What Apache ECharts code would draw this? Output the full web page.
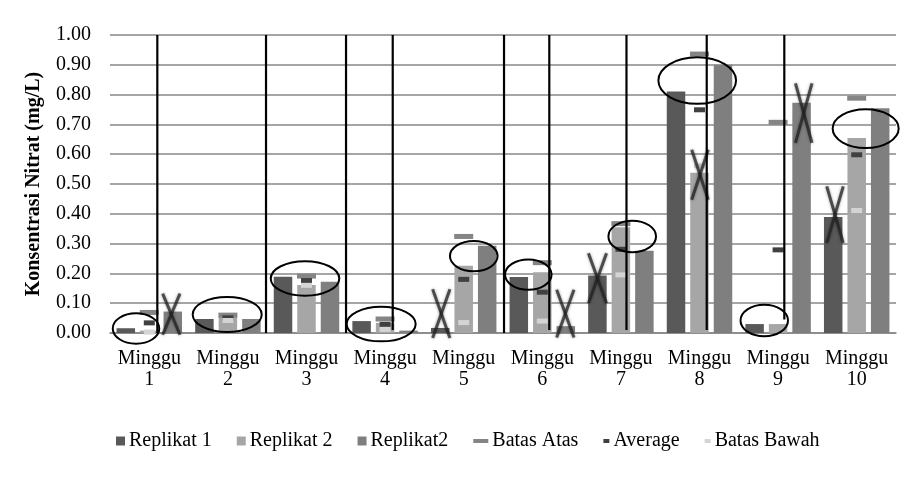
<!DOCTYPE html>
<html><head><meta charset="utf-8">
<script src="https://cdn.jsdelivr.net/npm/echarts@6/dist/echarts.min.js"></script>
<style>html,body{margin:0;padding:0;background:#fff}#c{width:916px;height:483px}</style>
</head><body><div id="c"></div>
<script>
// ---- data ----
const categories = ['Minggu\n1','Minggu\n2','Minggu\n3','Minggu\n4','Minggu\n5','Minggu\n6','Minggu\n7','Minggu\n8','Minggu\n9','Minggu\n10'];
const replikat1  = [0.016, 0.047, 0.189, 0.040, 0.017, 0.188, 0.193, 0.810, 0.030, 0.389];
const replikat2  = [0.008, 0.057, 0.161, 0.034, 0.226, 0.204, 0.355, 0.538, 0.030, 0.654];
const replikat2b = [0.072, 0.047, 0.172, 0.008, 0.293, 0.023, 0.276, 0.900, 0.773, 0.754];
const batasAtas  = [0.069, 0.060, 0.191, 0.047, 0.324, 0.236, 0.367, 0.936, 0.707, 0.788];
const average    = [0.034, 0.051, 0.176, 0.029, 0.180, 0.137, 0.281, 0.749, 0.279, 0.598];
const batasBawah = [0.003, 0.042, 0.160, 0.012, 0.035, 0.040, 0.195, 0.561, null, 0.411];
const yTicks = [0, 0.1, 0.2, 0.3, 0.4, 0.5, 0.6, 0.7, 0.8, 0.9, 1.0];
// hand-drawn annotations, in data units (category position, value)
const ellipses = [[0.331,0.015,0.296,0.051],[1.491,0.062,0.439,0.059],[2.481,0.183,0.436,0.058],[3.450,0.030,0.439,0.058],[4.628,0.258,0.303,0.051],[5.322,0.196,0.296,0.051],[6.644,0.324,0.303,0.053],[7.471,0.847,0.494,0.078],[8.324,0.042,0.302,0.053],[9.614,0.686,0.420,0.065]];
const vLines = [[0.602,0.0],[1.985,0.0],[3.003,0.0],[3.597,0.01],[5.013,0.0],[5.589,0.01],[6.571,0.01],[7.592,0.01],[8.579,0.045]];
const crosses = [[0.780,0.063,0.11,0.069],[4.215,0.065,0.11,0.082],[5.793,0.065,0.11,0.080],[6.202,0.184,0.115,0.084],[7.506,0.531,0.105,0.084],[8.826,0.738,0.105,0.100],[9.224,0.397,0.105,0.095]];

const FONT = '"Liberation Serif","Times New Roman",serif';
const chart = echarts.init(document.getElementById('c'), null, {renderer:'canvas'});

const ctx = document.createElement('canvas').getContext('2d');
ctx.font = '20px "Liberation Serif"';
const legendSpec = [
  {name:'Replikat 1', w:9, h:9},
  {name:'Replikat 2', w:9, h:9},
  {name:'Replikat2', w:9, h:9},
  {name:'Batas Atas', w:15, h:4},
  {name:'Average', w:6, h:4},
  {name:'Batas Bawah', w:6, h:4}
];
let lx = 116; const lgap = 24;
const legends = legendSpec.map(s => {
  const l = {data:[{name:s.name, icon:'rect'}], left:lx, top:431, padding:0, itemWidth:s.w, itemHeight:s.h, itemGap:0,
    selectedMode:false, textStyle:{fontFamily:FONT, fontSize:20, color:'#000', padding:[0,0,0,-1]}};
  lx += s.w + 5 + ctx.measureText(s.name).width + lgap;
  return l;
});

function markerSeries(name, data, color, size) {
  return {name, type:'line', data, symbol:'rect', symbolSize:size, showSymbol:true, showAllSymbol:true,
    itemStyle:{color}, lineStyle:{opacity:0, width:0}, z:5, silent:true};
}

chart.setOption({
  animation:false,
  backgroundColor:'#fff',
  legend: legends,
  grid:{left:110, right:20, top:35, bottom:150, containLabel:false},
  xAxis:[{type:'category', data:categories, axisTick:{show:false},
      axisLine:{lineStyle:{color:'#878787', width:1.5}},
      axisLabel:{fontFamily:FONT, fontSize:20, color:'#000', margin:15, lineHeight:21, interval:0}},
    {type:'value', min:0, max:10, show:false}],
  yAxis:{type:'value', min:yTicks[0], max:yTicks[yTicks.length-1], interval:0.1,
    name:'Konsentrasi Nitrat (mg/L)', nameLocation:'middle', nameRotate:90, nameGap:66,
    nameTextStyle:{fontFamily:FONT, fontSize:20, fontWeight:'bold', color:'#000'},
    axisLine:{show:false}, axisTick:{show:false},
    axisLabel:{fontFamily:FONT, fontSize:20, color:'#000', margin:19, formatter:v=>v.toFixed(2)},
    splitLine:{lineStyle:{color:'#878787', width:1.5}}},
  series:[
    {name:'Replikat 1', type:'bar', data:replikat1, itemStyle:{color:'#595959'}, barGap:'27%', barCategoryGap:'16.7%'},
    {name:'Replikat 2', type:'bar', data:replikat2, itemStyle:{color:'#a6a6a6'}},
    {name:'Replikat2', type:'bar', data:replikat2b, itemStyle:{color:'#7f7f7f'}},
    markerSeries('Batas Atas', batasAtas, '#858585', [19,5]),
    markerSeries('Average', average, '#404040', [11,5]),
    markerSeries('Batas Bawah', batasBawah, '#d4d4d4', [11,5]),
    {name:'annoCross', type:'custom', xAxisIndex:1, yAxisIndex:0, data:crosses, z:8, clip:false, silent:true,
      renderItem:(p, api) => {
        const c = api.coord([api.value(0), api.value(1)]);
        const s = api.size([api.value(2), api.value(3)]);
        const st = {stroke:'rgba(35,35,35,0.75)', lineWidth:3, shadowBlur:3, shadowColor:'rgba(0,0,0,0.5)'};
        return {type:'group', children:[
          {type:'line', shape:{x1:c[0]-s[0], y1:c[1]-s[1], x2:c[0]+s[0], y2:c[1]+s[1]}, style:st},
          {type:'line', shape:{x1:c[0]+s[0], y1:c[1]-s[1], x2:c[0]-s[0], y2:c[1]+s[1]}, style:st}]};
      }},
    {name:'annoLine', type:'custom', xAxisIndex:1, yAxisIndex:0, data:vLines, z:9, clip:false, silent:true,
      renderItem:(p, api) => {
        const t = api.coord([api.value(0), 1.0]);
        const b = api.coord([api.value(0), api.value(1)]);
        return {type:'line', shape:{x1:t[0], y1:t[1], x2:b[0], y2:b[1]}, style:{stroke:'#000', lineWidth:2.2}};
      }},
    {name:'annoEllipse', type:'custom', xAxisIndex:1, yAxisIndex:0, data:ellipses, z:10, clip:false, silent:true,
      renderItem:(p, api) => {
        const c = api.coord([api.value(0), api.value(1)]);
        const s = api.size([api.value(2), api.value(3)]);
        return {type:'ellipse', shape:{cx:c[0], cy:c[1], rx:s[0], ry:s[1]}, style:{fill:'none', stroke:'#000', lineWidth:2}};
      }}
  ]
});
</script></body></html>
